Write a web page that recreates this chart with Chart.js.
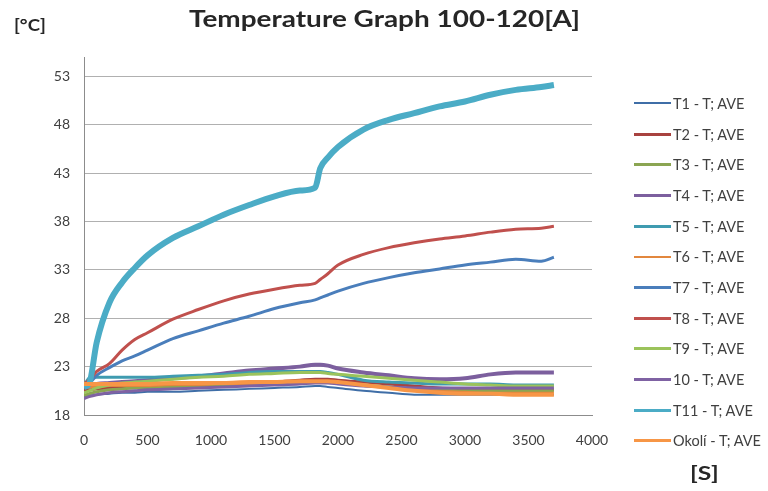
<!DOCTYPE html>
<html>
<head>
<meta charset="utf-8">
<script src="https://cdn.jsdelivr.net/npm/chart.js@4.4.1/dist/chart.umd.min.js"></script>
<style>
  body { margin:0; background:#fff; }
  #wrap { position:relative; width:768px; height:491px; font-family:Lato, sans-serif; color:#404040; }
  #chart { position:absolute; left:0; top:0; }
  .lbl { position:absolute; font-weight:bold; color:#262626; white-space:nowrap; line-height:1; transform-origin:left top; }
  #title { left:189px; top:8px; font-size:22px; transform:scaleX(1.27); }
  #unitY { left:14px; top:16px; font-size:17px; transform:scaleX(1.1); }
  #unitX { left:690px; top:463px; font-size:19px; transform:scaleX(1.3); }
  #legend { position:absolute; left:634px; top:88px; }
  #legend .item { height:30.7px; display:flex; align-items:center; font-size:14.5px; white-space:nowrap; }
  #legend .sw { width:37px; margin-right:2px; }
</style>
</head>
<body>
<div id="wrap">
  <canvas id="chart" width="768" height="491"></canvas>
  <div class="lbl" id="title">Temperature Graph 100-120[A]</div>
  <div class="lbl" id="unitY">[°C]</div>
  <div class="lbl" id="unitX">[S]</div>
  <div id="legend"></div>
</div>
<script>
/* time axis [s] */
const times = [0, 40, 100, 200, 300, 400, 500, 700, 900, 1100, 1300, 1500, 1700,
               1820, 1860, 1920, 2000, 2200, 2400, 2600, 2800, 3000, 3200, 3400, 3600, 3700];
const yTicks = [18, 23, 28, 33, 38, 43, 48, 53];

/* temperatures [°C] */
const t1  = [19.9,20.0,20.1,20.2,20.3,20.3,20.4,20.4,20.5,20.6,20.7,20.8,20.9,21.0,21.0,20.9,20.8,20.5,20.3,20.1,20.1,20.1,20.1,20.1,20.1,20.1];
const t2  = [20.6,20.6,20.7,20.8,20.8,20.9,20.9,21.0,21.1,21.2,21.3,21.4,21.6,21.7,21.7,21.7,21.6,21.4,21.2,21.0,20.8,20.7,20.6,20.6,20.6,20.6];
const t3  = [20.0,20.2,20.4,20.6,20.7,20.8,20.8,20.9,21.0,21.1,21.2,21.3,21.4,21.4,21.4,21.4,21.3,21.1,20.9,20.7,20.6,20.5,20.5,20.5,20.5,20.5];
const t4  = [20.9,21.1,21.2,21.3,21.4,21.5,21.6,21.8,22.0,22.3,22.6,22.8,23.0,23.2,23.2,23.1,22.8,22.4,22.1,21.8,21.7,21.8,22.2,22.4,22.4,22.4];
const t5  = [21.0,21.8,21.9,21.9,21.9,21.9,21.9,22.0,22.1,22.2,22.4,22.5,22.5,22.5,22.5,22.4,22.2,21.6,21.4,21.3,21.2,21.2,21.2,21.1,21.1,21.1];
const t6  = [20.9,20.9,20.9,21.0,21.0,21.0,21.0,21.1,21.1,21.2,21.2,21.3,21.4,21.4,21.4,21.4,21.3,21.1,20.9,20.7,20.5,20.4,20.3,20.3,20.3,20.3];
const t7  = [20.8,21.2,22.1,22.9,23.6,24.1,24.7,25.9,26.7,27.5,28.2,29.0,29.6,29.9,30.1,30.4,30.8,31.6,32.2,32.7,33.1,33.5,33.8,34.1,33.9,34.3];
const t8  = [21.2,21.6,22.5,23.3,24.7,25.8,26.5,27.9,28.9,29.8,30.5,31.0,31.4,31.6,32.0,32.6,33.5,34.6,35.3,35.8,36.2,36.5,36.9,37.2,37.3,37.5];
const t9  = [20.3,20.5,20.8,21.1,21.3,21.4,21.5,21.7,21.9,22.0,22.2,22.3,22.4,22.4,22.4,22.3,22.2,22.0,21.8,21.6,21.4,21.2,21.1,21.0,21.0,21.0];
const t10 = [19.7,19.9,20.1,20.3,20.4,20.5,20.6,20.7,20.8,20.9,21.0,21.1,21.2,21.3,21.3,21.3,21.2,21.0,20.9,20.8,20.8,20.8,20.8,20.8,20.8,20.8];
const t11 = [20.9,21.2,25.5,29.6,31.7,33.2,34.5,36.3,37.5,38.7,39.7,40.6,41.2,41.5,43.5,44.6,45.7,47.5,48.5,49.2,49.9,50.4,51.1,51.6,51.9,52.1];
const okoli = [21.2,21.2,21.2,21.2,21.2,21.2,21.2,21.3,21.3,21.3,21.4,21.4,21.5,21.5,21.5,21.5,21.4,21.1,20.8,20.5,20.3,20.2,20.2,20.1,20.1,20.1];

const names  = ["T1 - T; AVE","T2 - T; AVE","T3 - T; AVE","T4 - T; AVE","T5 - T; AVE","T6 - T; AVE",
                "T7 - T; AVE","T8 - T; AVE","T9 - T; AVE","10 - T; AVE","T11 - T; AVE","Okolí - T; AVE"];
const values = [t1,t2,t3,t4,t5,t6,t7,t8,t9,t10,t11,okoli];
const colours = ["#3f6ea7","#a8423f","#8ba552","#7c5f9e","#3f9bb0","#e2873e",
                 "#4a7ebb","#c0504d","#9bc35b","#7f62a3","#4bacc6","#f79646"];
const widths  = [2,3,3,4,3,2,3,3,3,3,6,4];

const datasets = names.map((n,i)=>({
  label:n,
  data: times.map((t,j)=>({x:t, y:values[i][j]})),
  borderColor:colours[i], backgroundColor:colours[i],
  borderWidth:widths[i], pointRadius:0, fill:false,
  cubicInterpolationMode:"monotone",
  order: names.length - i          // later series on top, like the original
}));

const chart = new Chart(document.getElementById("chart"), {
  type:"line",
  data:{datasets},
  options:{
    responsive:false, animation:false,
    layout:{padding:{left:40, top:57, right:176, bottom:46}},
    plugins:{legend:{display:false}, tooltip:{enabled:false}},
    scales:{
      x:{type:"linear", min:0, max:4000,
         ticks:{stepSize:500, color:"#404040", font:{family:"Lato", size:14}, padding:9, maxRotation:0,
                callback:v=>String(v)},
         grid:{display:false}, border:{color:"#8c8c8c"},
         afterFit:s=>{ s.height = 30; s.paddingLeft = 0; s.paddingRight = 0; }},
      y:{min:18, max:55,
         afterBuildTicks:s=>{ s.ticks = yTicks.map(v=>({value:v})); },
         ticks:{color:"#404040", font:{family:"Lato", size:14}, padding:14},
         grid:{color:"#b0b0b0", drawTicks:false}, border:{color:"#8c8c8c"},
         afterFit:s=>{ s.width = 44; s.paddingTop = 0; s.paddingBottom = 0; }}
    }
  }
});

/* legend */
const legend = document.getElementById("legend");
chart.data.datasets.forEach(d=>{
  const it = document.createElement("div");
  it.className = "item";
  it.innerHTML = `<span class="sw" style="height:${Math.min(d.borderWidth,3)}px;background:${d.borderColor}"></span>${d.label}`;
  legend.appendChild(it);
});
</script>
</body>
</html>
